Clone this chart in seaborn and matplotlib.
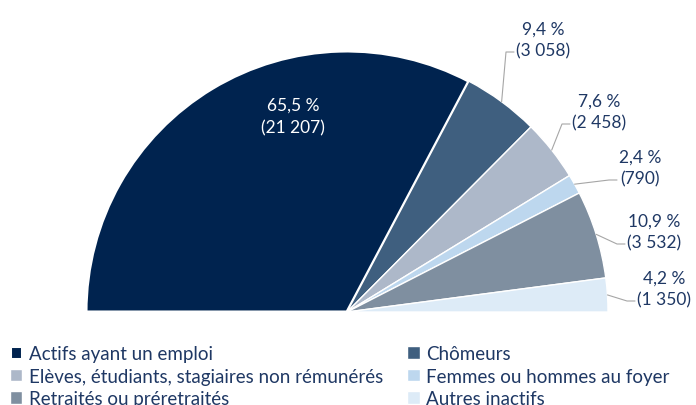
import numpy as np
import matplotlib.pyplot as plt
import seaborn as sns

categories = ["Actifs ayant un emploi", "Chômeurs",
              "Elèves, étudiants, stagiaires non rémunérés",
              "Femmes ou hommes au foyer", "Retraités ou préretraités",
              "Autres inactifs"]
counts = [21207, 3058, 2458, 790, 3532, 1350]
shares = [65.5, 9.4, 7.6, 2.4, 10.9, 4.2]
colors = ["#00234F", "#3F5F7F", "#ADB8C9", "#BDD7EE", "#7F8FA0", "#DDEBF7"]

W, H = 696, 406
CX, CY, R = 347, 313, 261  # centre and radius of the half disc, in pixels


def px(x, y):
    # pixel position -> data units (radius = 1)
    return (x - CX) / R, (CY - y) / R


# elbow of the leader lines for the outer labels (pixels)
elbows = [(506, 53), (562, 125), (609, 181), (617, 245), (627, 302)]

sns.set_theme(style="white")
plt.rcParams["font.family"] = ["Lato", "DejaVu Sans"]
text_color = "#1F3864"

fig = plt.figure(figsize=(W / 100, H / 100), dpi=100)
ax = fig.add_axes([0, 0, 1, 1])

total = sum(counts)
wedges, _ = ax.pie(counts + [total], colors=colors + ["white"],
                   startangle=180, counterclock=False, radius=1,
                   wedgeprops=dict(edgecolor="white", linewidth=1.0))
wedges[-1].set_visible(False)
wedges[0].set_linewidth(2.2)
ax.set_xlim(-CX / R, (W - CX) / R)
ax.set_ylim(-(H - CY) / R, CY / R)
ax.set_aspect("auto")
ax.axis("off")


def fmt(share, count):
    return f"{share:.1f}".replace(".", ",") + " %\n(" + f"{count:,}".replace(",", " ") + ")"


# label inside the big slice
ax.text(*px(293, 117), fmt(shares[0], counts[0]), color="white", fontsize=12.5,
        ha="center", va="center", linespacing=1.45)

# outer labels with leader lines
for i in range(1, 6):
    w = wedges[i]
    mid = np.deg2rad((w.theta1 + w.theta2) / 2)
    ax0, ay0 = np.cos(mid), np.sin(mid)
    ex, ey = px(*elbows[i - 1])
    tx, _ = px(elbows[i - 1][0] + 8, 0)
    ax.plot([ax0, ex, tx], [ay0, ey, ey], color="#A6A6A6", lw=0.8)
    lx, ly = px(elbows[i - 1][0] + 10, elbows[i - 1][1] - 12.5)
    ax.text(lx, ly, fmt(shares[i], counts[i]), color=text_color, fontsize=12.5,
            ha="left", va="center", multialignment="center", linespacing=1.45)

order = [0, 2, 4, 1, 3, 5]
ax.legend([wedges[k] for k in order], [categories[k] for k in order],
          ncol=2, loc="upper left", bbox_to_anchor=(10 / W, 1 - 346 / H),
          frameon=False, fontsize=13.5, handlelength=0.65, handleheight=0.65,
          handletextpad=0.35, columnspacing=1.3, labelspacing=0.3,
          borderaxespad=0, borderpad=0, labelcolor=text_color)

fig.savefig("out.png", dpi=100)
